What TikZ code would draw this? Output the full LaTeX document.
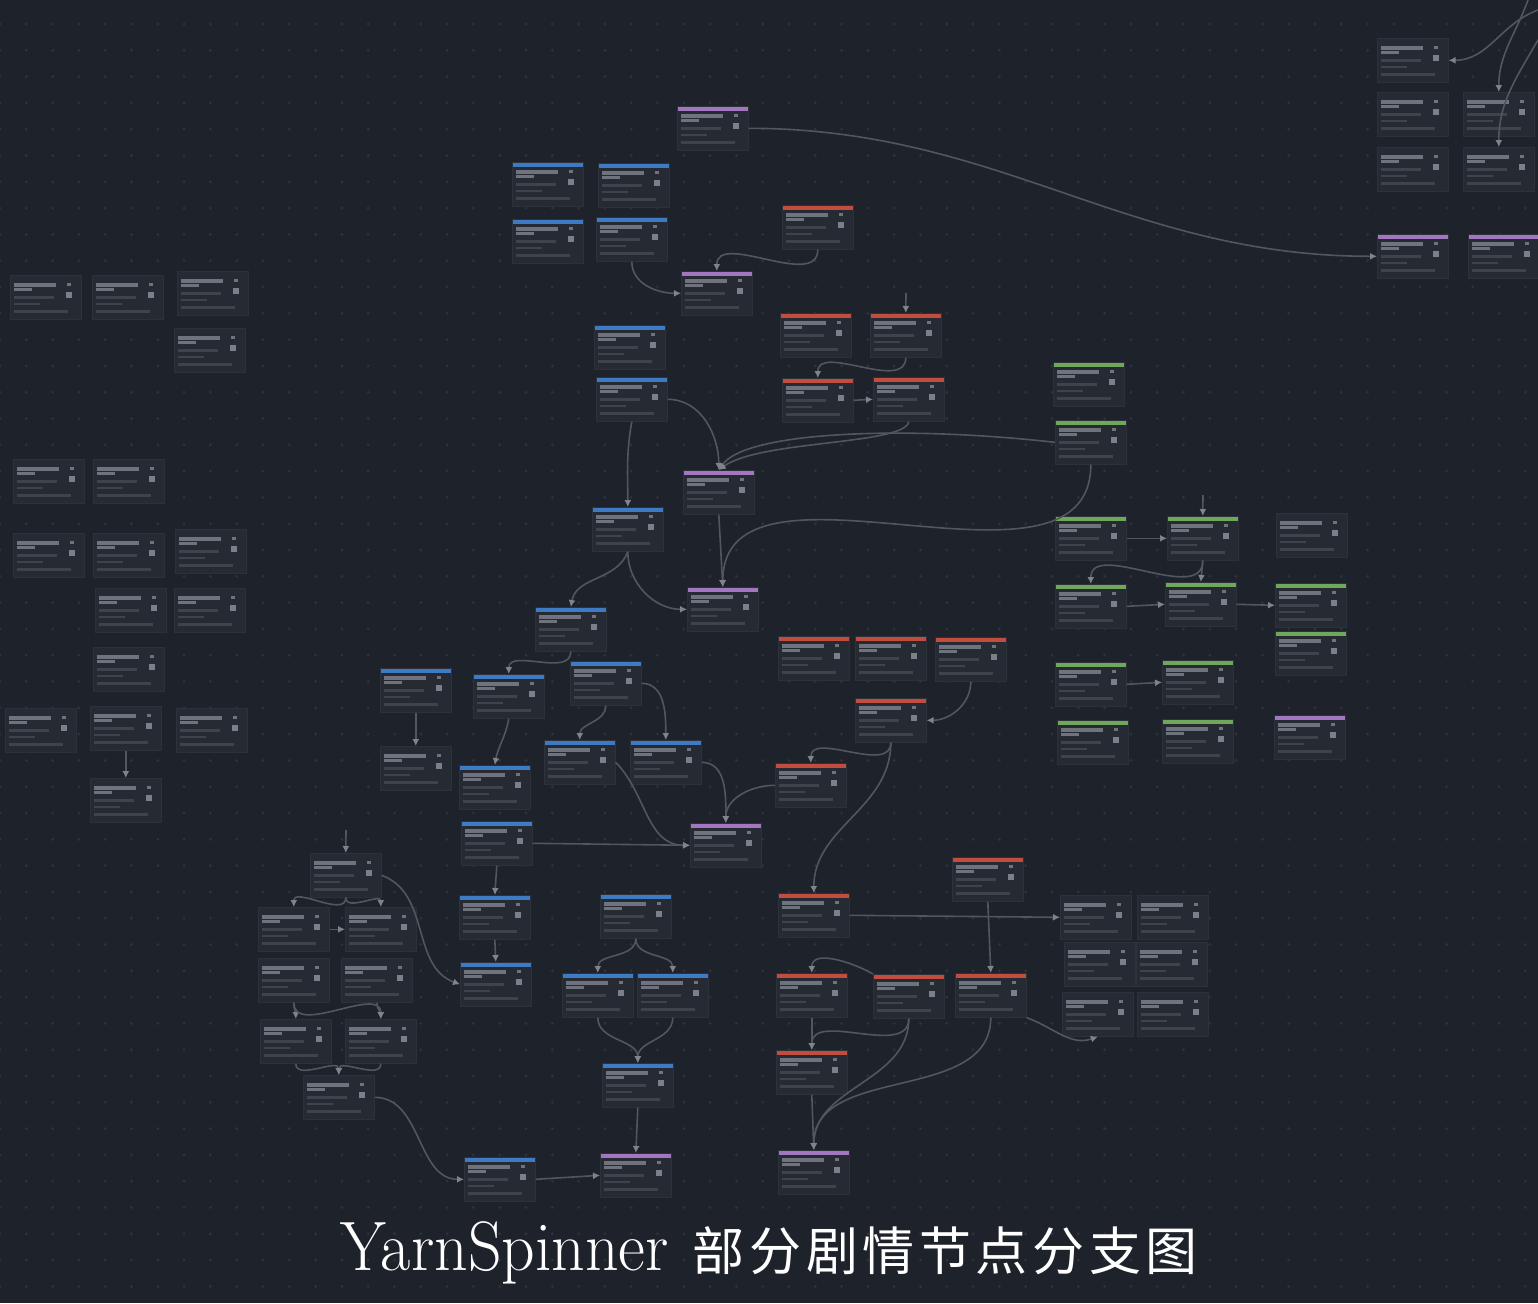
\documentclass[tikz,border=0pt]{standalone}
\usepackage{graphicx}
\usepackage{fontspec}
\newfontfamily\cjkfont{Noto Sans CJK SC}
\usepackage{tikz}
\usetikzlibrary{arrows.meta}

\definecolor{bgcol}{HTML}{1E222A}
\definecolor{griddot}{HTML}{2E323B}
\definecolor{cardbg}{HTML}{262A33}
\definecolor{cardline}{HTML}{2D313A}
\definecolor{hblue}{HTML}{3D7BC4}
\definecolor{hred}{HTML}{C24D3E}
\definecolor{hpurple}{HTML}{A277BF}
\definecolor{hgreen}{HTML}{6FA85A}
\definecolor{linkcol}{HTML}{51565F}
\definecolor{tipcol}{HTML}{7E838C}
\definecolor{txthi}{HTML}{6E737D}
\definecolor{txtlo}{HTML}{3E434C}
\definecolor{iconcol}{HTML}{7A8089}

\begin{document}
\begin{tikzpicture}[x=0.5pt,y=-0.5pt,
  card/.style={anchor=north west,minimum width=35.5pt,minimum height=22pt,inner sep=0pt,
    fill=cardbg,draw=cardline,line width=0.3pt,
    path picture={
      \fill[#1] (path picture bounding box.north west) rectangle ([yshift=-2.2pt]path picture bounding box.north east);
      \fill[txthi] ([xshift=2pt,yshift=-4pt]path picture bounding box.north west) rectangle ++(21pt,-1.6pt);
      \fill[txthi] ([xshift=2pt,yshift=-6.4pt]path picture bounding box.north west) rectangle ++(9pt,-1.4pt);
      \fill[txthi] ([xshift=-7pt,yshift=-4pt]path picture bounding box.north east) rectangle ++(2pt,-1.2pt);
      \fill[iconcol] ([xshift=-7.5pt,yshift=-8.5pt]path picture bounding box.north east) rectangle ++(3pt,-3pt);
      \fill[txtlo] ([xshift=2pt,yshift=-10.5pt]path picture bounding box.north west) rectangle ++(20pt,-1.2pt);
      \fill[txtlo] ([xshift=2pt,yshift=-13.8pt]path picture bounding box.north west) rectangle ++(13pt,-1.2pt);
      \fill[txtlo] ([xshift=2pt,yshift=-17.5pt]path picture bounding box.north west) rectangle ++(27pt,-1.2pt);
    }},
  card/.default=cardbg,
  link/.style={draw=linkcol,line width=0.8pt,-{Latex[length=3.5pt,width=3.5pt,color=tipcol]}}]

\useasboundingbox (0,0) rectangle (1538,1303);
\fill[bgcol] (0,0) rectangle (1538,1303);
\foreach \i in {0,...,58}
  \foreach \j in {0,...,49}
    \fill[griddot] (\i*26.3,24+\j*26.3) circle[radius=0.8pt];

% top cluster
\node[card=hpurple] (p1) at (677,106) {};
\node[card=hblue] (b1) at (512,162) {};
\node[card=hblue] (b2) at (598,163) {};
\node[card=hblue] (b3) at (512,219) {};
\node[card=hblue] (b4) at (596,217) {};
\node[card=hred] (r1) at (782,205) {};
\node[card=hpurple] (p2) at (681,271) {};
\node[card=hred] (r2) at (780,313) {};
\node[card=hred] (r3) at (870,313) {};
\node[card=hred] (r4) at (782,378) {};
\node[card=hred] (r5) at (873,377) {};
\node[card=hblue] (b5) at (594,325) {};
\node[card=hblue] (b6) at (596,377) {};
\node[card=hgreen] (g1) at (1053,362) {};
\node[card=hgreen] (g2) at (1055,420) {};
\node[card=hpurple] (p3) at (683,470) {};
\node[card=hblue] (b7) at (592,507) {};
\node[card=hpurple] (p4) at (687,587) {};
\node[card=hblue] (b8) at (535,607) {};

% middle cluster
\node[card=hred] (r6) at (778,636) {};
\node[card=hred] (r7) at (855,636) {};
\node[card=hred] (r8) at (935,637) {};
\node[card=hred] (r9) at (855,698) {};
\node[card=hred] (r10) at (775,763) {};
\node[card=hblue] (b9) at (380,668) {};
\node[card=hblue] (b10) at (473,674) {};
\node[card=hblue] (b11) at (570,661) {};
\node[card] (x1) at (380,746) {};
\node[card=hblue] (b12) at (544,740) {};
\node[card=hblue] (b13) at (630,740) {};
\node[card=hblue] (b14) at (459,765) {};
\node[card=hblue] (b15) at (461,821) {};
\node[card=hpurple] (p5) at (690,823) {};

% bottom cluster
\node[card=hred] (r11) at (778,893) {};
\node[card=hred] (r12) at (952,857) {};
\node[card] (w1) at (1060,895) {};
\node[card] (w2) at (1137,895) {};
\node[card] (w3) at (1064,942) {};
\node[card] (w4) at (1136,942) {};
\node[card] (w5) at (1062,992) {};
\node[card] (w6) at (1137,992) {};
\node[card=hred] (r13) at (776,973) {};
\node[card=hred] (r14) at (873,974) {};
\node[card=hred] (r15) at (955,973) {};
\node[card=hred] (r16) at (776,1050) {};
\node[card=hpurple] (p7) at (778,1150) {};
\node[card] (k1) at (310,853) {};
\node[card] (k2) at (258,907) {};
\node[card] (k3) at (345,907) {};
\node[card] (k4) at (258,958) {};
\node[card] (k5) at (341,958) {};
\node[card] (k6) at (260,1019) {};
\node[card] (k7) at (345,1019) {};
\node[card] (k8) at (303,1075) {};
\node[card=hblue] (b16) at (459,895) {};
\node[card=hblue] (b17) at (460,962) {};
\node[card=hblue] (b18) at (600,894) {};
\node[card=hblue] (b19) at (562,973) {};
\node[card=hblue] (b20) at (637,973) {};
\node[card=hblue] (b21) at (602,1063) {};
\node[card=hpurple] (p6) at (600,1153) {};
\node[card=hblue] (b22) at (464,1157) {};

% green cluster
\node[card=hgreen] (ga) at (1055,516) {};
\node[card=hgreen] (gb) at (1167,516) {};
\node[card] (gg) at (1276,513) {};
\node[card=hgreen] (gc) at (1055,584) {};
\node[card=hgreen] (gd) at (1165,582) {};
\node[card=hgreen] (ge) at (1275,583) {};
\node[card=hgreen] (gf) at (1275,631) {};
\node[card=hgreen] (gh) at (1055,662) {};
\node[card=hgreen] (gi) at (1162,660) {};
\node[card=hgreen] (gj) at (1057,720) {};
\node[card=hgreen] (gk) at (1162,719) {};
\node[card=hpurple] (pp) at (1274,715) {};

% top right
\node[card] (t1) at (1377,38) {};
\node[card] (t2) at (1377,92) {};
\node[card] (t3) at (1463,92) {};
\node[card] (t4) at (1377,147) {};
\node[card] (t5) at (1463,147) {};
\node[card=hpurple] (tp1) at (1377,234) {};
\node[card=hpurple] (tp2) at (1468,234) {};

% left
\node[card] (l1) at (10,275) {};
\node[card] (l2) at (92,275) {};
\node[card] (l3) at (177,271) {};
\node[card] (l4) at (174,328) {};
\node[card] (l5) at (13,459) {};
\node[card] (l6) at (93,459) {};
\node[card] (l7) at (13,533) {};
\node[card] (l8) at (93,533) {};
\node[card] (l9) at (175,529) {};
\node[card] (l10) at (95,588) {};
\node[card] (l11) at (174,588) {};
\node[card] (l12) at (93,647) {};
\node[card] (l13) at (5,708) {};
\node[card] (l14) at (90,706) {};
\node[card] (l15) at (176,708) {};
\node[card] (l16) at (90,778) {};

\coordinate (r3in) at (906,293);
\coordinate (gbin) at (1203,495);
\coordinate (k1in) at (346,830);
\coordinate (tr1) at (1538,10);
\coordinate (tr2) at (1528,0);
\coordinate (tr3) at (1538,40);

\draw[link] (p1.east) to[out=0,in=180] (tp1.west);
\draw[link] (b4.south) to[out=-90,in=180] (p2.west);
\draw[link] (r1.south) to[out=-90,in=90] (p2.north);
\draw[link] (r3in) -- (r3.north);
\draw[link] (r3.south) to[out=-90,in=90] (r4.north);
\draw[link] (r4.east) -- (r5.west);
\draw[link] (b6.east) to[out=0,in=90] (p3.north);
\draw[link] (r5.south) .. controls (905,445) and (760,440) .. (p3.north);
\draw[link] (g2.west) .. controls (900,425) and (745,432) .. (p3.north);
\draw[link] (b6.south) to[out=-100,in=90] (b7.north);
\draw[link] (p3.south) -- (p4.north);
\draw[link] (g2.south) to[out=-90,in=90] (p4.north);
\draw[link] (b7.south) to[out=-90,in=180] (p4.west);
\draw[link] (b7.south) to[out=-110,in=80] (b8.north);
\draw[link] (b8.south) to[out=-90,in=90] (b10.north);
\draw[link] (b10.south) to[out=-100,in=80] (b14.north);
\draw[link] (b11.south) to[out=-90,in=90] (b12.north);
\draw[link] (b11.east) to[out=0,in=90] (b13.north);
\draw[link] (b12.east) to[out=-45,in=180] (p5.west);
\draw[link] (b13.east) to[out=0,in=90] (p5.north);
\draw[link] (r10.west) to[out=180,in=90] (p5.north);
\draw[link] (b15.east) -- (p5.west);
\draw[link] (b9.south) -- (x1.north);
\draw[link] (r8.south) to[out=-90,in=0] (r9.east);
\draw[link] (r9.south) to[out=-90,in=90] (r10.north);
\draw[link] (r9.south) to[out=-90,in=90] (r11.north);
\draw[link] (r11.east) -- (w1.west);
\draw[link] (r12.south) -- (r15.north);
\draw[link] (r14.north west) to[out=150,in=90] (r13.north);
\draw[link] (r13.south) -- (r16.north);
\draw[link] (r14.south) to[out=-90,in=90] (r16.north);
\draw[link] (r14.south) to[out=-90,in=90] (p7.north);
\draw[link] (r15.south) to[out=-90,in=90] (p7.north);
\draw[link] (r16.south) -- (p7.north);
\draw[link] (r15.south east) to[out=-20,in=200] (w5.south);
\draw[link] (k1in) -- (k1.north);
\draw[link] (k1.south) to[out=-90,in=90] (k2.north);
\draw[link] (k1.south) to[out=-90,in=90] (k3.north);
\draw[link] (k2.east) -- (k3.west);
\draw[link] (k4.south) to[out=-90,in=90] (k6.north);
\draw[link] (k4.south) to[out=-90,in=90] (k7.north);
\draw[link] (k5.south) to[out=-90,in=90] (k7.north);
\draw[link] (k6.south) to[out=-90,in=90] (k8.north);
\draw[link] (k7.south) to[out=-90,in=90] (k8.north);
\draw[link] (k1.east) to[out=-20,in=160] (b17.west);
\draw[link] (k8.east) to[out=0,in=180] (b22.west);
\draw[link] (b15.south) -- (b16.north);
\draw[link] (b16.south) -- (b17.north);
\draw[link] (b18.south) to[out=-90,in=90] (b19.north);
\draw[link] (b18.south) to[out=-90,in=90] (b20.north);
\draw[link] (b19.south) to[out=-90,in=90] (b21.north);
\draw[link] (b20.south) to[out=-90,in=90] (b21.north);
\draw[link] (b21.south) -- (p6.north);
\draw[link] (b22.east) -- (p6.west);
\draw[link] (gbin) -- (gb.north);
\draw[link] (ga.east) -- (gb.west);
\draw[link] (gb.south) to[out=-90,in=90] (gc.north);
\draw[link] (gb.south) -- (gd.north);
\draw[link] (gc.east) -- (gd.west);
\draw[link] (gd.east) -- (ge.west);
\draw[link] (gh.east) -- (gi.west);
\draw[link] (tr1) to[out=200,in=0] (t1.east);
\draw[link] (tr2) to[out=-110,in=90] (t3.north);
\draw[link] (tr3) to[out=-120,in=90] (t5.north);
\draw[link] (l14.south) -- (l16.north);

\node[anchor=base west,inner sep=0pt,text=white] (title) at (340,1270)
  {\fontsize{35}{40}\selectfont\scalebox{0.94}[1]{YarnSpinner}\hspace{12pt}%
   \cjkfont\fontsize{26}{30}\selectfont 部\kern2.3pt 分\kern2.3pt 剧\kern2.3pt 情\kern2.3pt 节\kern2.3pt 点\kern2.3pt 分\kern2.3pt 支\kern2.3pt 图};
\end{tikzpicture}
\end{document}
